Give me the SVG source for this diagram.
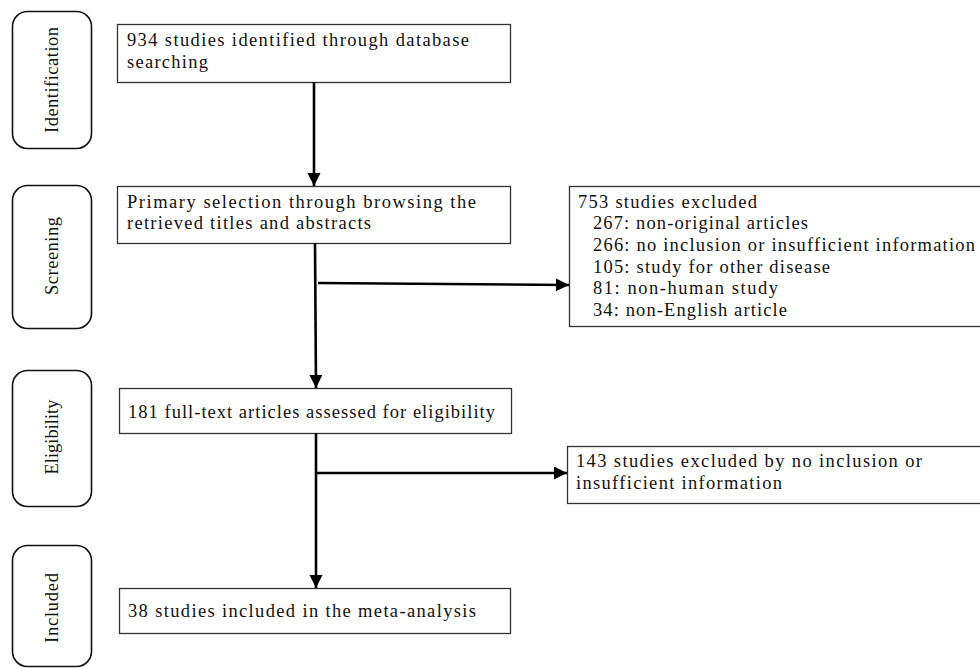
<svg xmlns="http://www.w3.org/2000/svg" width="980" height="668" viewBox="0 0 980 668">
<defs>
<marker id="ah" markerUnits="userSpaceOnUse" markerWidth="14" markerHeight="14" refX="13" refY="6.5" orient="auto">
<path d="M0,0 L13,6.5 L0,13 Z" fill="#000"/>
</marker>
<style>
.pill{fill:#fff;stroke:#111;stroke-width:1.6}
.box{fill:#fff;stroke:#333;stroke-width:1.3}
.t{font-family:"Liberation Serif","DejaVu Serif",serif;font-size:18.5px;fill:#111}
.lbl{font-family:"Liberation Serif","DejaVu Serif",serif;font-size:18.5px;fill:#111;text-anchor:middle}
.c{stroke:#000;stroke-width:2.6;fill:none}
</style>
</defs>
<rect width="980" height="668" fill="#fff"/>
<g id="stage-identification">
<rect class="pill" x="12.5" y="11.5" width="79" height="137" rx="15"/>
<text class="lbl" transform="translate(58,80) rotate(-90)" textLength="106" lengthAdjust="spacing">Identification</text>
</g>
<g id="stage-screening">
<rect class="pill" x="12.5" y="185.5" width="79" height="143" rx="15"/>
<text class="lbl" transform="translate(58,256) rotate(-90)" textLength="78" lengthAdjust="spacing">Screening</text>
</g>
<g id="stage-eligibility">
<rect class="pill" x="12.5" y="370.5" width="79" height="136" rx="15"/>
<text class="lbl" transform="translate(58,437) rotate(-90)" textLength="75" lengthAdjust="spacing">Eligibility</text>
</g>
<g id="stage-included">
<rect class="pill" x="12.5" y="545.5" width="79" height="121" rx="15"/>
<text class="lbl" transform="translate(58,608) rotate(-90)" textLength="70" lengthAdjust="spacing">Included</text>
</g>
<g id="identified">
<rect class="box" x="117.5" y="24.5" width="393" height="58"/>
<text class="t" x="127" y="46" textLength="342" lengthAdjust="spacing">934 studies identified through database</text>
<text class="t" x="127" y="68" textLength="81" lengthAdjust="spacing">searching</text>
</g>
<g id="screened">
<rect class="box" x="117.5" y="186.5" width="393" height="57"/>
<text class="t" x="127" y="208" textLength="349" lengthAdjust="spacing">Primary selection through browsing the</text>
<text class="t" x="127" y="229" textLength="244" lengthAdjust="spacing">retrieved titles and abstracts</text>
</g>
<g id="excluded-753">
<rect class="box" x="569.5" y="186.5" width="420" height="140"/>
<text class="t" x="578" y="208" textLength="179" lengthAdjust="spacing">753 studies excluded</text>
<text class="t" x="593" y="229" textLength="215" lengthAdjust="spacing">267: non-original articles</text>
<text class="t" x="593" y="251" textLength="382" lengthAdjust="spacing">266: no inclusion or insufficient information</text>
<text class="t" x="593" y="273" textLength="237" lengthAdjust="spacing">105: study for other disease</text>
<text class="t" x="593" y="294" textLength="185" lengthAdjust="spacing">81: non-human study</text>
<text class="t" x="593" y="316" textLength="194" lengthAdjust="spacing">34: non-English article</text>
</g>
<g id="eligible">
<rect class="box" x="119.5" y="388.5" width="392" height="45"/>
<text class="t" x="128" y="418" textLength="367" lengthAdjust="spacing">181 full-text articles assessed for eligibility</text>
</g>
<g id="excluded-143">
<rect class="box" x="567.5" y="446.5" width="422" height="57"/>
<text class="t" x="576" y="467" textLength="346" lengthAdjust="spacing">143 studies excluded by no inclusion or</text>
<text class="t" x="576" y="489" textLength="206" lengthAdjust="spacing">insufficient information</text>
</g>
<g id="included">
<rect class="box" x="119.5" y="588.5" width="391" height="45"/>
<text class="t" x="128" y="617" textLength="348" lengthAdjust="spacing">38 studies included in the meta-analysis</text>
</g>
<g id="connectors">
<line class="c" x1="314" y1="82" x2="314" y2="186" marker-end="url(#ah)"/>
<line class="c" x1="315" y1="243" x2="316" y2="388" marker-end="url(#ah)"/>
<line class="c" x1="318" y1="283" x2="569" y2="285" marker-end="url(#ah)"/>
<line class="c" x1="316" y1="433" x2="316" y2="588" marker-end="url(#ah)"/>
<line class="c" x1="317" y1="473" x2="567" y2="473" marker-end="url(#ah)"/>
</g>
</svg>
